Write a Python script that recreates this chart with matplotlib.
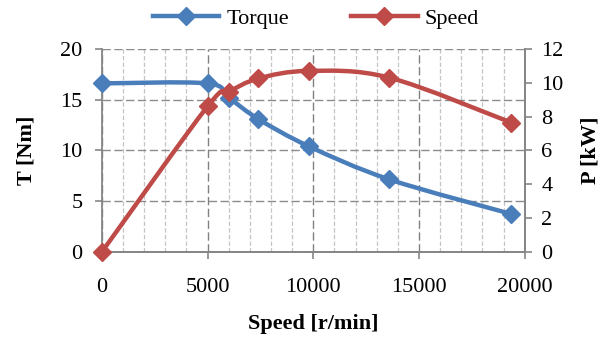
import numpy as np
import matplotlib
matplotlib.use("Agg")
from matplotlib import pyplot as plt
from matplotlib.path import Path
from matplotlib.patches import PathPatch
from matplotlib.lines import Line2D

# data
speed = [0, 5000, 6000, 7400, 9800, 13600, 19360]
torque = [16.6, 16.6, 15.2, 13.1, 10.4, 7.15, 3.75]
speed_p = [0, 5000, 6000, 7400, 9800, 13600, 19360]
power = [0.0, 8.6, 9.45, 10.25, 10.7, 10.3, 7.65]

blue = '#4A7EBB'
red = '#BE4B48'
grey = '#868686'

plt.rcParams['font.family'] = ['Liberation Serif', 'DejaVu Serif']


def smooth_path(xs, ys):
    # excel-style smoothed line: cubic bezier through the points
    pts = np.column_stack([xs, ys]).astype(float)
    n = len(pts)
    verts = [pts[0]]
    codes = [Path.MOVETO]
    for i in range(n - 1):
        p0 = pts[i - 1] if i > 0 else pts[i]
        p1 = pts[i]
        p2 = pts[i + 1]
        p3 = pts[i + 2] if i + 2 < n else pts[i + 1]
        c1 = p1 + (p2 - p0) / 6.0
        c2 = p2 - (p3 - p1) / 6.0
        verts += [c1, c2, p2]
        codes += [Path.CURVE4] * 3
    return Path(verts, codes)


fig = plt.figure(dpi=100, figsize=(6.13, 3.37))
ax = fig.add_axes([0.166, 0.252, 0.69, 0.603])
ax2 = ax.twinx()

ax.set_xlim(0, 20000)
ax.set_ylim(0, 20)
ax2.set_ylim(0, 12)

# grid
ax.set_xticks(range(0, 20001, 5000))
ax.set_xticks(range(0, 20001, 1000), minor=True)
ax.set_yticks(range(0, 21, 5))
ax2.set_yticks(range(0, 13, 2))
ax.grid(which='minor', axis='x', color='#C4C4C4', linestyle=(0, (3.5, 1.8)), lw=0.9)
ax.grid(which='major', axis='x', color='#808080', linestyle=(0, (6, 2.5)), lw=1.0)
ax.grid(which='major', axis='y', color='#8C8C8C', linestyle=(0, (6, 2.5)), lw=1.0)
ax.set_axisbelow(True)

for a in (ax, ax2):
    a.spines['top'].set_visible(False)
    for s in ('left', 'right', 'bottom'):
        a.spines[s].set_color(grey)
        a.spines[s].set_linewidth(1.3)
    a.tick_params(axis='both', which='major', direction='out', length=5,
                  width=1.2, color=grey, labelsize=16, pad=9)
ax.tick_params(axis='x', which='major', pad=14)
ax.tick_params(axis='x', which='minor', length=0)
ax2.tick_params(axis='y', pad=7)
ax2.spines['left'].set_visible(False)

ax.plot(speed, torque, linestyle='none', marker='D', ms=9, color=blue, clip_on=False, zorder=3)
ax.add_patch(PathPatch(smooth_path(speed, torque), fill=False, edgecolor=blue, lw=3.2,
                       capstyle='round', zorder=2))
ax2.add_patch(PathPatch(smooth_path(speed_p, power), fill=False, edgecolor=red, lw=3.2,
                        capstyle='round', zorder=2))
ax2.plot(speed_p, power, linestyle='none', marker='D', ms=9, color=red, clip_on=False, zorder=3)

ax.set_xlabel('Speed [r/min]', fontsize=16, fontweight='bold', labelpad=12)
ax.set_ylabel('T [Nm]', fontsize=16, fontweight='bold', labelpad=17)
ax2.set_ylabel('P [kW]', fontsize=16, fontweight='bold', labelpad=12)

handles = [Line2D([], [], color=blue, lw=3.2, marker='D', ms=9),
           Line2D([], [], color=red, lw=3.2, marker='D', ms=9)]
fig.legend(handles, ['Torque', 'Speed'], loc='upper center', bbox_to_anchor=(0.515, 1.035),
           ncol=2, frameon=False, fontsize=16, handlelength=3, columnspacing=2.8,
           handletextpad=0.3)

plt.savefig('out.png', dpi=100)
